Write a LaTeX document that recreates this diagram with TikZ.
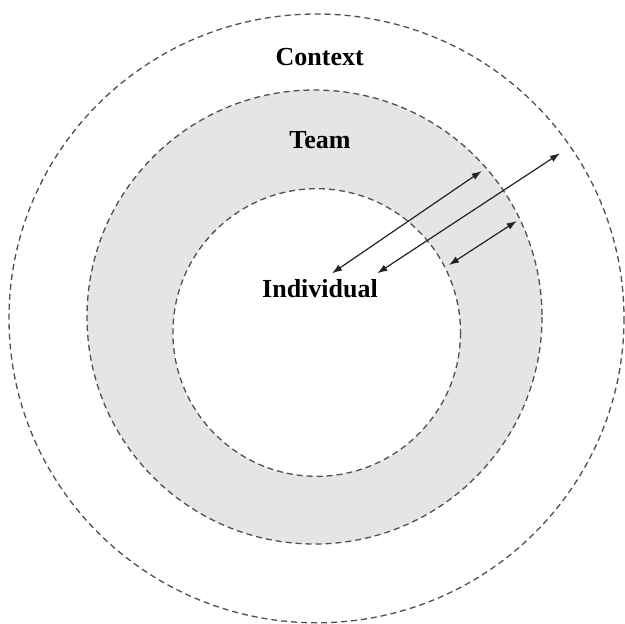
\documentclass[tikz,border=0pt]{standalone}
\usepackage{fontspec}
\setmainfont{Liberation Serif}
\usetikzlibrary{arrows.meta}
\definecolor{ringgray}{RGB}{229,229,229}
\definecolor{dashgray}{RGB}{80,80,80}
\definecolor{arrowgray}{RGB}{35,35,35}
\begin{document}
\begin{tikzpicture}[x=1pt,y=-1pt,
  ring/.style={draw=dashgray,line width=1.3pt,dash pattern=on 6pt off 4pt},
  label/.style={font=\fontsize{26}{30}\selectfont\bfseries,anchor=base,inner sep=0pt},
  link/.style={draw=arrowgray,line width=1.2pt,{Latex[length=10pt,width=7pt]}-{Latex[length=10pt,width=7pt]}}]
\useasboundingbox (0,0) rectangle (625,624);
\fill[white] (0,0) rectangle (625,624);
% gray ring
\fill[ringgray,even odd rule] (314.5,317) ellipse [x radius=227.5,y radius=227]
  (316.7,332.5) circle [radius=143.8];
% circles
\draw[ring] (316.5,318.4) ellipse [x radius=307.5,y radius=304.4];
\draw[ring] (314.5,317) ellipse [x radius=227.5,y radius=227];
\draw[ring] (316.7,332.5) circle [radius=143.8];
% labels
\node[label] (context) at (319.7,65) {Context};
\node[label] (team) at (320,148.3) {Team};
\node[label] (individual) at (320,297.3) {Individual};
% arrow ends
\coordinate (a1s) at (332,273.3);
\coordinate (a1e) at (481.7,171);
\coordinate (a2s) at (377.3,273.3);
\coordinate (a2e) at (560,153.3);
\coordinate (a3s) at (449,265);
\coordinate (a3e) at (516.7,221);
\draw[link] (a1s) -- (a1e);
\draw[link] (a2s) -- (a2e);
\draw[link] (a3s) -- (a3e);
\end{tikzpicture}
\end{document}
